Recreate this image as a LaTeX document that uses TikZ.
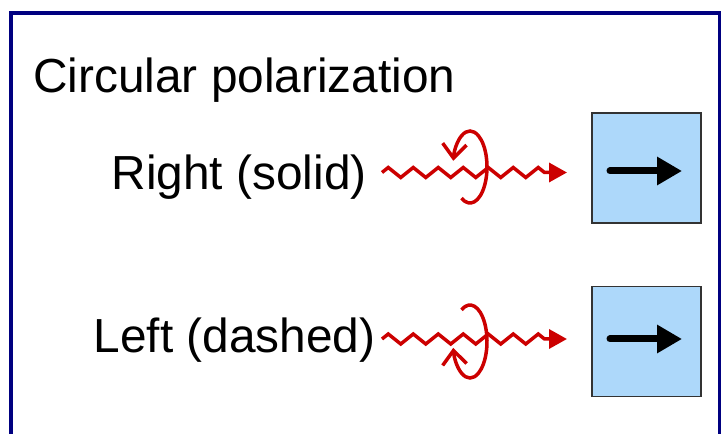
\documentclass[tikz,border=0pt]{standalone}
\usepackage{fontspec}
\setmainfont{Liberation Sans}
\usetikzlibrary{arrows.meta,decorations.pathmorphing}
\definecolor{framenavy}{RGB}{0, 0, 128}
\definecolor{wavered}{RGB}{204, 0, 0}
\definecolor{boxblue}{RGB}{173, 216, 250}
\definecolor{boxedge}{RGB}{51, 51, 51}
\tikzset{
 lbltext/.style={
 anchor=base west,
 inner sep=0pt,
 font=\fontsize{47.8}{56}\selectfont
 },
 detector/.style={
 rectangle,
 draw=boxedge,
 fill=boxblue,
 line width=1.5pt,
 minimum width=109pt,
 minimum height=110pt,
 inner sep=0pt
 },
 wave/.style={
 draw=wavered,
 line width=3.5pt,
 decorate,
 decoration={zigzag, segment length=25pt, amplitude=5pt, post length=20pt},
 -{Triangle[length=18pt,width=19pt]}
 },
 spin/.style={draw=wavered, line width=3.5pt, -{Straight Barb[length=14pt,width=24pt]}},
 pointer/.style={line width=7pt, line cap=round, -{Triangle[length=25pt,width=27pt]}}
}

\begin{document}
\begin{tikzpicture}[x=1pt, y=1pt]
 \useasboundingbox (0,0) rectangle (721,434);
 \clip (0,0) rectangle (721,434);
 \draw[framenavy, line width=4pt] (11,-10) -- (11,420.5) -- (719.5,420.5) -- (719.5,-10);

 \node[lbltext] (title) at (33,341) {Circular polarization};
 \node[lbltext] (rlabel) at (111.5,244) {Right (solid)};
 \node[lbltext] (llabel) at (93.5,81) {Left (dashed)};

 \node[detector] (rbox) at (646.5,266) {};
 \node[detector] (lbox) at (646.5,92.5) {};

 % right-handed beam
 \coordinate (rstart) at (382,261.5);
 \coordinate (rend) at (567,261.5);
 \draw[wave] (rstart) -- (rend);
 \draw[spin] (470,267) ++(240:17pt and 36pt)
 arc[start angle=240, end angle=530, x radius=17pt, y radius=36pt];

 % left-handed beam
 \coordinate (lstart) at (382,95);
 \coordinate (lend) at (567,95);
 \draw[wave] (lstart) -- (lend);
 \draw[spin] (470,92.5) ++(120:17pt and 36.5pt)
 arc[start angle=120, end angle=-170, x radius=17pt, y radius=36.5pt];

 \draw[pointer] ([xshift=-36.5pt,yshift=-3pt]rbox.center) -- ([xshift=35.5pt,yshift=-3pt]rbox.center);
 \draw[pointer] ([xshift=-36.5pt,yshift=2.5pt]lbox.center) -- ([xshift=35.5pt,yshift=2.5pt]lbox.center);
\end{tikzpicture}
\end{document}
